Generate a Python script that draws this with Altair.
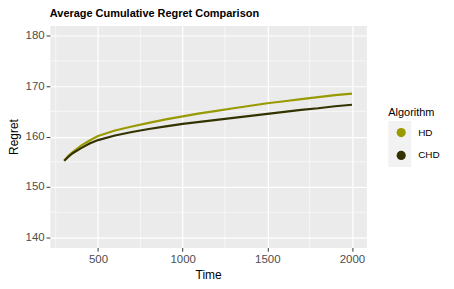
import altair as alt
import pandas as pd

time = [300, 325, 350, 400, 450, 500, 600, 700, 800, 900, 1000,
        1100, 1200, 1300, 1400, 1500, 1600, 1700, 1800, 1900, 2000]
hd = [155.2, 156.2, 156.9, 158.2, 159.2, 160.1, 161.2, 162.0, 162.7, 163.4, 164.0,
      164.6, 165.1, 165.6, 166.1, 166.6, 167.0, 167.4, 167.8, 168.2, 168.5]
chd = [155.2, 156.0, 156.7, 157.7, 158.6, 159.3, 160.2, 160.9, 161.5, 162.0, 162.5,
       162.9, 163.3, 163.7, 164.1, 164.5, 164.9, 165.3, 165.6, 166.0, 166.3]
algorithms = ["HD", "CHD"]
colors = ["#999900", "#333300"]
key_ids = ["HD key", "CHD key"]
x_major = [500, 1000, 1500, 2000]
x_minor = [250, 750, 1250, 1750]
y_major = [140, 150, 160, 170, 180]
y_minor = [145, 155, 165, 175]

df = pd.DataFrame({
    "Time": time * 2,
    "Regret": hd + chd,
    "Algorithm": ["HD"] * len(time) + ["CHD"] * len(time),
})
df["Key"] = df["Algorithm"] + " key"
df["Series"] = df["Algorithm"]

FONT = "Liberation Sans"
xscale = alt.Scale(domain=[215, 2085], nice=False, zero=False)
yscale = alt.Scale(domain=[138, 182], nice=False, zero=False)
xaxis = alt.Axis(values=x_major, title="Time", format="d")
yaxis = alt.Axis(values=y_major, title="Regret")
X = alt.X("Time:Q", scale=xscale, axis=xaxis)
Y = alt.Y("Regret:Q", scale=yscale, axis=yaxis)

xminor = alt.Chart(pd.DataFrame({"v": x_minor})).mark_rule(
    color="white", strokeWidth=0.6
).encode(x=alt.X("v:Q", scale=xscale, axis=xaxis))

yminor = alt.Chart(pd.DataFrame({"v": y_minor})).mark_rule(
    color="white", strokeWidth=0.6
).encode(y=alt.Y("v:Q", scale=yscale, axis=yaxis))

# grey key background boxes of the legend
keybg = alt.Chart(df).mark_square(opacity=0, size=1).encode(
    x=X, y=Y,
    color=alt.Color(
        "Key:N",
        scale=alt.Scale(domain=key_ids, range=["#F2F2F2", "#F2F2F2"]),
        legend=alt.Legend(
            title=None, orient="none", legendX=340, legendY=96, padding=0,
            symbolType="square", symbolSize=529, symbolStrokeWidth=0,
            symbolOpacity=1, labelExpr="''", labelFontSize=1, rowPadding=0,
            zindex=1,
        ),
    ),
)

# filled circle keys
keys = alt.Chart(df).mark_circle(opacity=0, size=1).encode(
    x=X, y=Y,
    fill=alt.Fill(
        "Algorithm:N",
        scale=alt.Scale(domain=algorithms, range=colors),
        legend=alt.Legend(
            title="Algorithm", orient="none", legendX=340, legendY=82, padding=0,
            symbolType="circle", symbolSize=85, symbolStrokeWidth=0,
            symbolOpacity=1, symbolOffset=8, labelOffset=12, rowPadding=0,
            clipHeight=23, titleFontSize=11, titleFontWeight="normal",
            titleColor="black", titleFont=FONT, titlePadding=3, labelFont=FONT,
            labelFontSize=10, labelColor="black", zindex=2,
        ),
    ),
)

lines = alt.Chart(df).mark_line(strokeWidth=2.2).encode(
    x=X, y=Y,
    stroke=alt.Stroke(
        "Series:N", scale=alt.Scale(domain=algorithms, range=colors), legend=None
    ),
)

chart = alt.layer(xminor, yminor, keybg, keys, lines).properties(
    width=318,
    height=223,
    autosize=alt.AutoSizeParams(type="none"),
    padding={"left": 42, "top": 17, "right": 80, "bottom": 34},
    title=alt.Title(
        "Average Cumulative Regret Comparison", anchor="start", frame="group",
        font=FONT, fontSize=11, fontWeight="bold", color="black", offset=6,
    ),
).configure_view(
    fill="#EBEBEB", stroke="transparent"
).configure_axis(
    grid=True, gridColor="white", gridWidth=1.2, domain=False,
    tickColor="#333333", tickSize=3.7, tickWidth=1,
    labelColor="#4D4D4D", labelFontSize=11.5, labelFont=FONT, labelPadding=2,
    titleFont=FONT, titleFontSize=12, titleColor="black", titleFontWeight="normal",
).configure_axisY(
    titlePadding=5
).configure_axisX(
    titlePadding=5
)

chart.save("out.html", embed_options={"renderer": "svg", "actions": False})
